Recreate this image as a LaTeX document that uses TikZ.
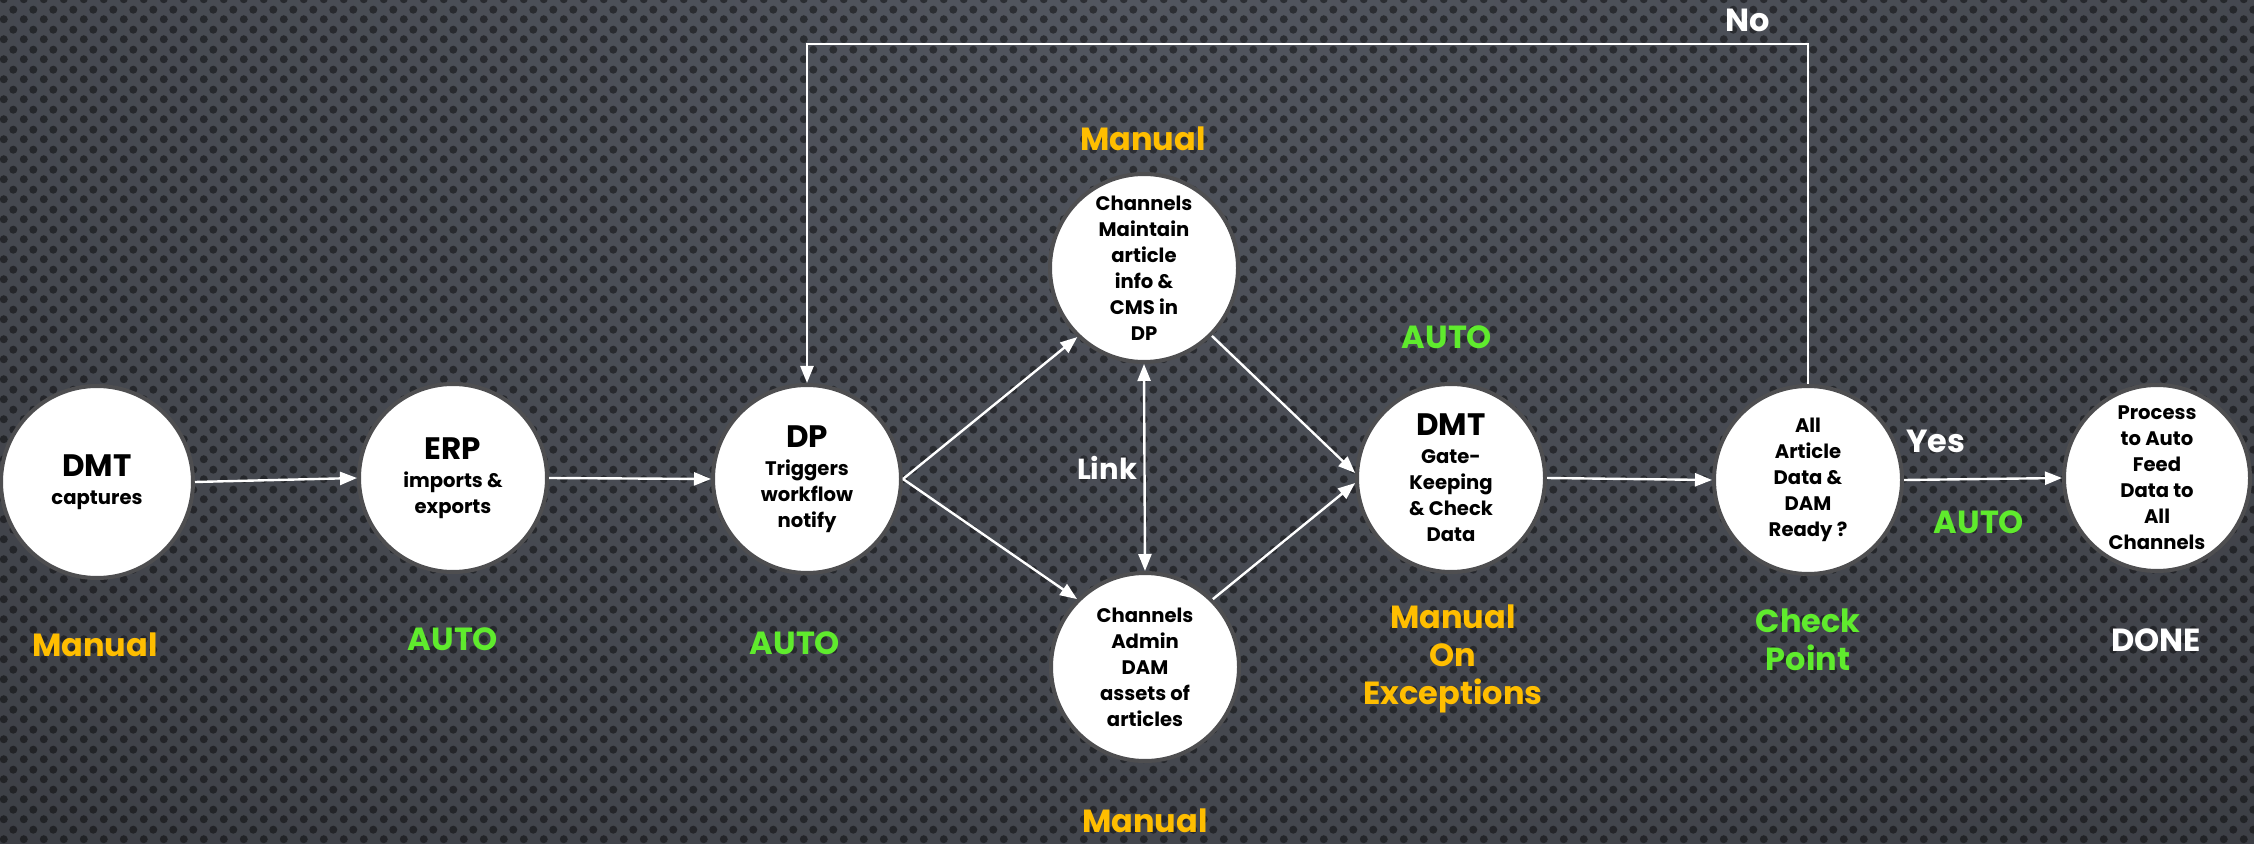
\documentclass[tikz,border=0pt]{standalone}
\usepackage{fontspec}
\setmainfont{Poppins}
\usetikzlibrary{arrows.meta,patterns}
\definecolor{bgA}{RGB}{82,86,95}
\definecolor{bgB}{RGB}{68,71,78}
\definecolor{bgC}{RGB}{52,54,59}
\definecolor{bgD}{RGB}{40,41,45}
\definecolor{bgE}{RGB}{30,31,34}
\definecolor{ringgray}{RGB}{78,78,80}
\definecolor{gold}{RGB}{255,190,0}
\definecolor{lgreen}{RGB}{95,235,45}
\pgfdeclarepatternformonly{perfdots}{\pgfqpoint{0pt}{0pt}}{\pgfqpoint{10pt}{10pt}}{\pgfqpoint{10pt}{10pt}}{%
  \pgfpathcircle{\pgfqpoint{2.5pt}{2.5pt}}{2.1pt}%
  \pgfpathcircle{\pgfqpoint{7.5pt}{7.5pt}}{2.1pt}%
  \pgfusepath{fill}}
\pgfdeclareradialshading{bgrad}{\pgfpoint{0bp}{0bp}}{color(0bp)=(bgA); color(20bp)=(bgB); color(37bp)=(bgC); color(45bp)=(bgD); color(56bp)=(bgE); color(100bp)=(bgE)}
\tikzset{
  conn/.style={draw=white, line width=1.2pt, -{Triangle[length=8.5pt,width=6.5pt]}},
  twoway/.style={draw=white, line width=1.2pt, {Triangle[length=8.5pt,width=6.5pt]}-{Triangle[length=8.5pt,width=6.5pt]}},
  proc/.style={circle, fill=white, draw=ringgray, line width=2pt, minimum size=94pt, inner sep=0pt, align=center, text=black, font=\bfseries\fontsize{9.8}{13}\selectfont},
  lblgold/.style={text=gold, align=center, inner sep=0pt, font=\bfseries\fontsize{16}{19}\selectfont},
  lblgreen/.style={text=lgreen, align=center, inner sep=0pt, font=\bfseries\fontsize{16}{19}\selectfont},
  lblwhite/.style={text=white, align=center, inner sep=0pt, font=\bfseries\fontsize{16}{19}\selectfont},
}
\newcommand{\hd}[1]{{\fontsize{15.5}{16}\selectfont #1}\\[1pt]}
\begin{document}
\begin{tikzpicture}[x=0.5pt,y=-0.5pt]
\useasboundingbox (0,0) rectangle (2254,844);
% background
\begin{scope}
  \clip (0,0) rectangle (2254,844);
  \shade[shading=bgrad] (-400,-1000) rectangle (2654,1000);
  \fill[pattern=perfdots, pattern color=black, fill opacity=0.45] (0,0) rectangle (2254,844);
\end{scope}
% nodes
\node[proc, minimum size=96pt] (dmt) at (97,482) {\hd{DMT}captures};
\node[proc] (erp) at (453,478) {\hd{ERP}imports \&\\exports};
\node[proc] (dp) at (807,479) {\hd{DP}Triggers\\workflow\\notify};
\node[proc] (maint) at (1144,268) {Channels\\Maintain\\article\\info \&\\CMS in\\DP};
\node[proc] (admin) at (1145,667) {Channels\\Admin\\DAM\\assets of\\articles};
\node[proc] (gate) at (1451,478) {\hd{DMT}Gate-\\Keeping\\\& Check\\Data};
\node[proc] (check) at (1808,480) {All\\Article\\Data \&\\DAM\\Ready ?};
\node[proc, minimum size=93pt] (proc) at (2157,478) {Process\\to Auto\\Feed\\Data to\\All\\Channels};
% labels
\node[lblgold] (l1) at (95,645) {Manual};
\node[lblgreen] (l2) at (453,639) {AUTO};
\node[lblgreen] (l3) at (795,643) {AUTO};
\node[lblgold] (l4) at (1143,139) {Manual};
\node[lblgold] (l5) at (1145,821) {Manual};
\node[lblgreen] (l6) at (1447,337) {AUTO};
\node[lblgold] (l7) at (1453,659) {Manual\\On\\Exceptions};
\node[lblgreen] (l8) at (1808,640) {Check\\Point};
\node[lblwhite] (l9) at (2156,640) {DONE};
\node[lblwhite] (yes) at (1936,441) {Yes};
\node[lblgreen] (l10) at (1979,522) {AUTO};
\node[lblwhite] (no) at (1748,20) {No};
\node[lblwhite, font=\bfseries\fontsize{14.5}{16}\selectfont] (link) at (1107,468) {Link};
% connectors
\draw[conn] (dmt.east) -- (erp.west);
\draw[conn] (erp.east) -- (dp.west);
\draw[conn] (dp.east) -- (maint.226);
\draw[conn] (dp.east) -- (admin.135);
\draw[twoway] (maint.south) -- (admin.north);
\draw[conn] (maint.315) -- (gate.177);
\draw[conn] (admin.45) -- (gate.183);
\draw[conn] (gate.east) -- (check.west);
\draw[conn] (check.east) -- (proc.west);
\coordinate (ntop) at (0,44);
\draw[conn] (check.north) -- (check.north |- ntop) -- (dp.north |- ntop) -- (dp.north);
\end{tikzpicture}
\end{document}
